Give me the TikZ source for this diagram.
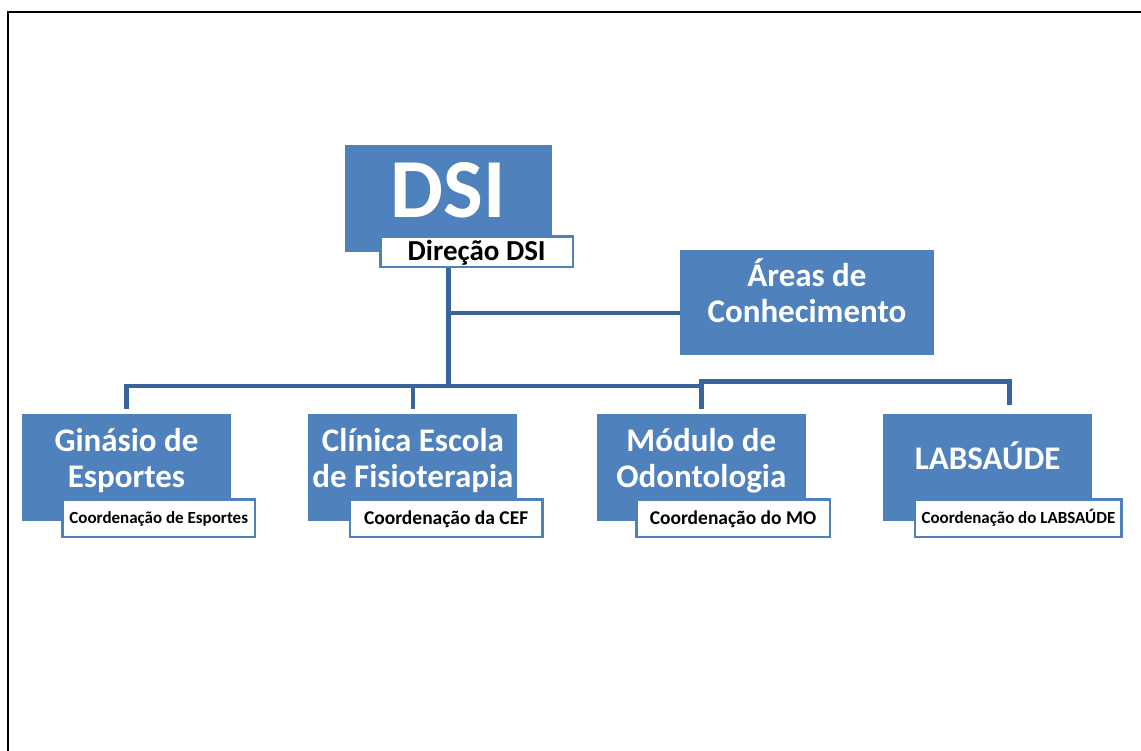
\documentclass[tikz,border=0pt]{standalone}
\usepackage{fontspec}
\setmainfont{Carlito}
\usetikzlibrary{positioning}

\definecolor{boxblue}{RGB}{79,129,189}
\definecolor{linkblue}{RGB}{58,101,152}

\begin{document}
\begin{tikzpicture}[x=1pt, y=-1pt,
		unit/.style={fill=boxblue, inner sep=0pt, minimum width=209pt, minimum height=107pt},
		unitname/.style={text=white, font=\bfseries\fontsize{33}{36}\selectfont, align=center, anchor=base},
		coord/.style={draw=boxblue, line width=2.5pt, fill=white, inner sep=0pt, anchor=south east,
			minimum width=192.5pt, minimum height=37.5pt, text height={0.63*#1pt}, text depth=0pt,
			font=\bfseries\fontsize{#1}{#1}\selectfont},
		link/.style={draw=linkblue, line width=4.5pt},
		frame/.style={draw=black, line width=2.5pt}]

	\useasboundingbox (0,0) rectangle (1141,751);
	\draw [frame] (8,751) -- (8,12) -- (1141,12);

	\node [unit, minimum width=207pt]					(dsi)		at (448.5,198.5)	{};
	\node [unitname, font=\bfseries\fontsize{84}{90}\selectfont]	(dsiname)	at ([yshift=-73pt]dsi.north)	{DSI};
	\node [coord=29, minimum height=30.5pt]			(direcao)	at ([shift={(22,16)}]dsi.south east)	{Direção DSI};

	\node [unit, minimum width=254pt, minimum height=105pt]	(areas)		at (807,302.5)		{};
	\node [unitname]									(areasname)	at ([yshift=-73pt]areas.north)	{Áreas de\\Conhecimento};

	\node [unit]								(gin)					at (126.5,467.5)	{};
	\node [unit]								(cef)	[right = 77pt of gin]	{};
	\node [unit]								(mo)	[right = 79pt of cef]	{};
	\node [unit]								(lab)	[right = 77pt of mo]	{};

	\node [unitname]	(ginname)	at ([yshift=-74pt]gin.north)	{Ginásio de\\Esportes};
	\node [unitname]	(cefname)	at ([yshift=-74pt]cef.north)	{Clínica Escola\\de Fisioterapia};
	\node [unitname]	(moname)	at ([yshift=-74pt]mo.north)		{Módulo de\\Odontologia};
	\node [unitname]	(labname)	at ([yshift=-56pt]lab.north)	{LABSAÚDE};

	\node [coord=17]						(gincoord)	at ([shift={(25,17)}]gin.south east)	{Coordenação de Esportes};
	\node [coord=19.5]						(cefcoord)	at ([shift={(26,17)}]cef.south east)	{Coordenação da CEF};
	\node [coord=19.5, minimum width=193.5pt]	(mocoord)	at ([shift={(25,17)}]mo.south east)		{Coordenação do MO};
	\node [coord=17, minimum width=206.5pt]	(labcoord)	at ([shift={(30.5,17)}]lab.south east)	{Coordenação do LABSAÚDE};

	\coordinate (busleft)	at (124,386);
	\coordinate (busright)	at (1009.5,381.5);

	\draw [link] (dsi.south |- direcao.south) -- (dsi.south |- busleft);
	\draw [link] (dsi.south |- areas.west) ++(0,10.5) -- ([yshift=-10.5pt]areas.west);
	\draw [link] ([yshift=5pt]gin.north) -- (gin.north |- busleft) -- (mo.north |- busleft);
	\draw [link] ([yshift=5pt]cef.north) -- (cef.north |- busleft);
	\draw [link] ([yshift=5pt]mo.north) -- (mo.north |- busright) -- (busright) -- ([yshift=8.5pt]busright |- lab.north);

\end{tikzpicture}
\end{document}
